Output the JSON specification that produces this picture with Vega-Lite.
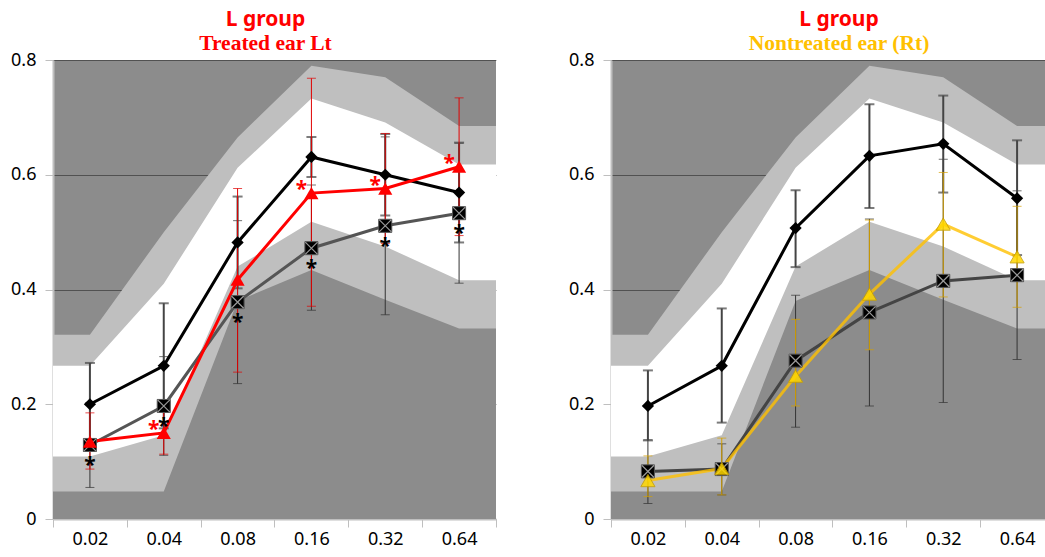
{
  "$schema": "https://vega.github.io/schema/vega-lite/v6.json",
  "background": "#ffffff",
  "padding": {"left": 10, "right": 0, "top": 8, "bottom": 0},
  "datasets": {
    "bands": [
      {"freq": 0.01, "b1": 0.048, "b2": 0.109, "b3": 0.267, "b4": 0.321},
      {"freq": 0.02, "b1": 0.048, "b2": 0.109, "b3": 0.267, "b4": 0.321},
      {"freq": 0.04, "b1": 0.048, "b2": 0.146, "b3": 0.41, "b4": 0.5},
      {"freq": 0.08, "b1": 0.38, "b2": 0.44, "b3": 0.612, "b4": 0.665},
      {"freq": 0.16, "b1": 0.434, "b2": 0.518, "b3": 0.733, "b4": 0.79},
      {"freq": 0.32, "b1": 0.382, "b2": 0.475, "b3": 0.691, "b4": 0.77},
      {"freq": 0.64, "b1": 0.332, "b2": 0.416, "b3": 0.618, "b4": 0.685},
      {"freq": 1.28, "b1": 0.332, "b2": 0.416, "b3": 0.618, "b4": 0.685}
    ],
    "pts": [
      {"panel": "Lt", "s": "A", "freq": 0.02, "v": 0.200, "lo": 0.128, "hi": 0.272, "sig": ""},
      {"panel": "Lt", "s": "A", "freq": 0.04, "v": 0.267, "lo": 0.158, "hi": 0.376, "sig": ""},
      {"panel": "Lt", "s": "A", "freq": 0.08, "v": 0.482, "lo": 0.402, "hi": 0.562, "sig": ""},
      {"panel": "Lt", "s": "A", "freq": 0.16, "v": 0.631, "lo": 0.596, "hi": 0.666, "sig": ""},
      {"panel": "Lt", "s": "A", "freq": 0.32, "v": 0.600, "lo": 0.529, "hi": 0.671, "sig": ""},
      {"panel": "Lt", "s": "A", "freq": 0.64, "v": 0.569, "lo": 0.482, "hi": 0.656, "sig": ""},
      {"panel": "Lt", "s": "B", "freq": 0.02, "v": 0.129, "lo": 0.055, "hi": 0.203, "sig": "*"},
      {"panel": "Lt", "s": "B", "freq": 0.04, "v": 0.197, "lo": 0.111, "hi": 0.283, "sig": "*"},
      {"panel": "Lt", "s": "B", "freq": 0.08, "v": 0.378, "lo": 0.236, "hi": 0.520, "sig": "*"},
      {"panel": "Lt", "s": "B", "freq": 0.16, "v": 0.472, "lo": 0.364, "hi": 0.582, "sig": "*"},
      {"panel": "Lt", "s": "B", "freq": 0.32, "v": 0.511, "lo": 0.356, "hi": 0.666, "sig": "*"},
      {"panel": "Lt", "s": "B", "freq": 0.64, "v": 0.533, "lo": 0.411, "hi": 0.655, "sig": "*"},
      {"panel": "Lt", "s": "C", "freq": 0.02, "v": 0.135, "lo": 0.087, "hi": 0.185, "sig": ""},
      {"panel": "Lt", "s": "C", "freq": 0.04, "v": 0.150, "lo": 0.113, "hi": 0.187, "sig": "*"},
      {"panel": "Lt", "s": "C", "freq": 0.08, "v": 0.417, "lo": 0.256, "hi": 0.576, "sig": ""},
      {"panel": "Lt", "s": "C", "freq": 0.16, "v": 0.568, "lo": 0.371, "hi": 0.768, "sig": "*"},
      {"panel": "Lt", "s": "C", "freq": 0.32, "v": 0.576, "lo": 0.480, "hi": 0.672, "sig": "*"},
      {"panel": "Lt", "s": "C", "freq": 0.64, "v": 0.614, "lo": 0.494, "hi": 0.734, "sig": "*"},
      {"panel": "Rt", "s": "A", "freq": 0.02, "v": 0.197, "lo": 0.137, "hi": 0.259, "sig": ""},
      {"panel": "Rt", "s": "A", "freq": 0.04, "v": 0.267, "lo": 0.168, "hi": 0.367, "sig": ""},
      {"panel": "Rt", "s": "A", "freq": 0.08, "v": 0.507, "lo": 0.439, "hi": 0.573, "sig": ""},
      {"panel": "Rt", "s": "A", "freq": 0.16, "v": 0.633, "lo": 0.542, "hi": 0.723, "sig": ""},
      {"panel": "Rt", "s": "A", "freq": 0.32, "v": 0.654, "lo": 0.569, "hi": 0.738, "sig": ""},
      {"panel": "Rt", "s": "A", "freq": 0.64, "v": 0.559, "lo": 0.460, "hi": 0.660, "sig": ""},
      {"panel": "Rt", "s": "B", "freq": 0.02, "v": 0.083, "lo": 0.027, "hi": 0.138, "sig": ""},
      {"panel": "Rt", "s": "B", "freq": 0.04, "v": 0.087, "lo": 0.042, "hi": 0.131, "sig": ""},
      {"panel": "Rt", "s": "B", "freq": 0.08, "v": 0.276, "lo": 0.160, "hi": 0.390, "sig": ""},
      {"panel": "Rt", "s": "B", "freq": 0.16, "v": 0.360, "lo": 0.197, "hi": 0.523, "sig": ""},
      {"panel": "Rt", "s": "B", "freq": 0.32, "v": 0.415, "lo": 0.203, "hi": 0.627, "sig": ""},
      {"panel": "Rt", "s": "B", "freq": 0.64, "v": 0.425, "lo": 0.278, "hi": 0.572, "sig": ""},
      {"panel": "Rt", "s": "C", "freq": 0.02, "v": 0.067, "lo": 0.039, "hi": 0.110, "sig": ""},
      {"panel": "Rt", "s": "C", "freq": 0.04, "v": 0.088, "lo": 0.042, "hi": 0.141, "sig": ""},
      {"panel": "Rt", "s": "C", "freq": 0.08, "v": 0.249, "lo": 0.197, "hi": 0.348, "sig": ""},
      {"panel": "Rt", "s": "C", "freq": 0.16, "v": 0.392, "lo": 0.295, "hi": 0.521, "sig": ""},
      {"panel": "Rt", "s": "C", "freq": 0.32, "v": 0.514, "lo": 0.387, "hi": 0.604, "sig": ""},
      {"panel": "Rt", "s": "C", "freq": 0.64, "v": 0.457, "lo": 0.369, "hi": 0.545, "sig": ""}
    ]
  },
  "spacing": 71,
  "hconcat": [
    {
      "width": 443,
      "height": 459,
      "title": {"text": "L group", "subtitle": "Treated ear Lt", "color": "#ff0000", "subtitleColor": "#ff0000", "font": "Noto Sans", "fontSize": 21, "fontWeight": "bold", "subtitleFont": "Liberation Serif", "subtitleFontSize": 21.5, "subtitleFontWeight": "bold", "subtitlePadding": 3, "anchor": "middle", "frame": "group", "offset": -3, "dx": -9},
      "encoding": {
        "x": {"field": "freq", "type": "quantitative", "title": null,
          "scale": {"type": "log", "base": 2, "domain": [0.0141421, 0.9051], "nice": false, "zero": false},
          "axis": {"values": [0.0141421, 0.02, 0.0282843, 0.04, 0.0565685, 0.08, 0.1131371, 0.16, 0.2262742, 0.32, 0.4525483, 0.64, 0.9050967],
            "labelExpr": "abs(datum.value*100 - round(datum.value*100)) < 0.001 ? format(datum.value, '.2f') : ''",
            "tickOpacity": {"condition": {"test": "abs(datum.value*100 - round(datum.value*100)) < 0.001", "value": 0}, "value": 1}}}
      },
      "layer": [
        {"data": {"name": "bands"}, "mark": {"type": "area", "color": "#bfbfbf", "clip": true, "opacity": 1}, "encoding": {"y": {"field": "b4", "type": "quantitative", "title": null, "scale": {"domain": [0, 0.8], "nice": false}}}},
        {"data": {"name": "bands"}, "mark": {"type": "area", "color": "#ffffff", "clip": true, "opacity": 1}, "encoding": {"y": {"field": "b3", "type": "quantitative", "title": null}}},
        {"data": {"name": "bands"}, "mark": {"type": "area", "color": "#bfbfbf", "clip": true, "opacity": 1}, "encoding": {"y": {"field": "b2", "type": "quantitative", "title": null}}},
        {"data": {"name": "bands"}, "mark": {"type": "area", "color": "#8c8c8c", "clip": true, "opacity": 1}, "encoding": {"y": {"field": "b1", "type": "quantitative", "title": null}}},
        {"data": {"name": "pts"}, "transform": [{"filter": "datum.panel == 'Lt' && datum.s == 'B'"}], "mark": {"type": "errorbar", "color": "#333333", "ticks": {"size": 9, "thickness": 1, "color": "#333333"}, "rule": {"strokeWidth": 1, "color": "#333333"}}, "encoding": {"y": {"field": "lo", "type": "quantitative", "title": null}, "y2": {"field": "hi"}}},
        {"data": {"name": "pts"}, "transform": [{"filter": "datum.panel == 'Lt' && datum.s == 'A'"}], "mark": {"type": "errorbar", "color": "#444444", "ticks": {"size": 10, "thickness": 2, "color": "#444444"}, "rule": {"strokeWidth": 2, "color": "#444444"}}, "encoding": {"y": {"field": "lo", "type": "quantitative", "title": null}, "y2": {"field": "hi"}}},
        {"data": {"name": "pts"}, "transform": [{"filter": "datum.panel == 'Lt' && datum.s == 'C'"}], "mark": {"type": "errorbar", "color": "#e00000", "ticks": {"size": 9, "thickness": 1, "color": "#e00000"}, "rule": {"strokeWidth": 1, "color": "#e00000"}}, "encoding": {"y": {"field": "lo", "type": "quantitative", "title": null}, "y2": {"field": "hi"}}},
        {"data": {"name": "pts"}, "transform": [{"filter": "datum.panel == 'Lt' && datum.s == 'B'"}], "mark": {"type": "line", "color": "#555555", "strokeWidth": 3}, "encoding": {"y": {"field": "v", "type": "quantitative", "title": null}}},
        {"data": {"name": "pts"}, "transform": [{"filter": "datum.panel == 'Lt' && datum.s == 'A'"}], "mark": {"type": "line", "color": "#000000", "strokeWidth": 3}, "encoding": {"y": {"field": "v", "type": "quantitative", "title": null}}},
        {"data": {"name": "pts"}, "transform": [{"filter": "datum.panel == 'Lt' && datum.s == 'C'"}], "mark": {"type": "line", "color": "#ff0000", "strokeWidth": 3}, "encoding": {"y": {"field": "v", "type": "quantitative", "title": null}}},
        {"data": {"name": "pts"}, "transform": [{"filter": "datum.panel == 'Lt' && datum.s == 'B'"}], "mark": {"type": "point", "shape": "square", "filled": true, "fill": "#000000", "stroke": "#555555", "strokeWidth": 1, "size": 170, "opacity": 1}, "encoding": {"y": {"field": "v", "type": "quantitative", "title": null}}},
        {"data": {"name": "pts"}, "transform": [{"filter": "datum.panel == 'Lt' && datum.s == 'B'"}], "mark": {"type": "point", "shape": "M-1,-1L1,1M-1,1L1,-1", "filled": false, "stroke": "#9a9a9a", "strokeWidth": 1.2, "size": 150, "opacity": 1}, "encoding": {"y": {"field": "v", "type": "quantitative", "title": null}}},
        {"data": {"name": "pts"}, "transform": [{"filter": "datum.panel == 'Lt' && datum.s == 'A'"}], "mark": {"type": "point", "shape": "diamond", "filled": true, "color": "#000000", "size": 150, "opacity": 1}, "encoding": {"y": {"field": "v", "type": "quantitative", "title": null}}},
        {"data": {"name": "pts"}, "transform": [{"filter": "datum.panel == 'Lt' && datum.s == 'C'"}], "mark": {"type": "point", "shape": "triangle-up", "filled": true, "color": "#ff0000", "size": 200, "opacity": 1}, "encoding": {"y": {"field": "v", "type": "quantitative", "title": null}}},
        {"data": {"name": "pts"}, "transform": [{"filter": "datum.panel == 'Lt' && datum.s == 'B' && datum.sig != ''"}], "mark": {"type": "text", "font": "Noto Sans", "fontSize": 21, "fontWeight": "bold", "color": "#000000", "baseline": "alphabetic", "align": "center", "dy": 27}, "encoding": {"y": {"field": "v", "type": "quantitative", "title": null}, "text": {"field": "sig"}}},
        {"data": {"name": "pts"}, "transform": [{"filter": "datum.panel == 'Lt' && datum.s == 'C' && datum.sig != ''"}], "mark": {"type": "text", "font": "Noto Sans", "fontSize": 21, "fontWeight": "bold", "color": "#ff0000", "baseline": "alphabetic", "align": "center", "dx": -10, "dy": 3}, "encoding": {"y": {"field": "v", "type": "quantitative", "title": null}, "text": {"field": "sig"}}}
      ]
    },
    {
      "width": 438,
      "height": 459,
      "title": {"text": "L group", "subtitle": "Nontreated ear (Rt)", "color": "#ff0000", "subtitleColor": "#ffc000", "font": "Noto Sans", "fontSize": 21, "fontWeight": "bold", "subtitleFont": "Liberation Serif", "subtitleFontSize": 21.5, "subtitleFontWeight": "bold", "subtitlePadding": 3, "anchor": "middle", "frame": "group", "offset": -3, "dx": 9},
      "encoding": {
        "x": {"field": "freq", "type": "quantitative", "title": null,
          "scale": {"type": "log", "base": 2, "domain": [0.0141421, 0.8636], "nice": false, "zero": false},
          "axis": {"values": [0.0141421, 0.02, 0.0282843, 0.04, 0.0565685, 0.08, 0.1131371, 0.16, 0.2262742, 0.32, 0.4525483, 0.64],
            "labelExpr": "abs(datum.value*100 - round(datum.value*100)) < 0.001 ? format(datum.value, '.2f') : ''",
            "tickOpacity": {"condition": {"test": "abs(datum.value*100 - round(datum.value*100)) < 0.001", "value": 0}, "value": 1}}}
      },
      "layer": [
        {"data": {"name": "bands"}, "mark": {"type": "area", "color": "#bfbfbf", "clip": true, "opacity": 1}, "encoding": {"y": {"field": "b4", "type": "quantitative", "title": null, "scale": {"domain": [0, 0.8], "nice": false}}}},
        {"data": {"name": "bands"}, "mark": {"type": "area", "color": "#ffffff", "clip": true, "opacity": 1}, "encoding": {"y": {"field": "b3", "type": "quantitative", "title": null}}},
        {"data": {"name": "bands"}, "mark": {"type": "area", "color": "#bfbfbf", "clip": true, "opacity": 1}, "encoding": {"y": {"field": "b2", "type": "quantitative", "title": null}}},
        {"data": {"name": "bands"}, "mark": {"type": "area", "color": "#8c8c8c", "clip": true, "opacity": 1}, "encoding": {"y": {"field": "b1", "type": "quantitative", "title": null}}},
        {"data": {"name": "pts"}, "transform": [{"filter": "datum.panel == 'Rt' && datum.s == 'B'"}], "mark": {"type": "errorbar", "color": "#333333", "ticks": {"size": 9, "thickness": 1, "color": "#333333"}, "rule": {"strokeWidth": 1, "color": "#333333"}}, "encoding": {"y": {"field": "lo", "type": "quantitative", "title": null}, "y2": {"field": "hi"}}},
        {"data": {"name": "pts"}, "transform": [{"filter": "datum.panel == 'Rt' && datum.s == 'A'"}], "mark": {"type": "errorbar", "color": "#444444", "ticks": {"size": 10, "thickness": 2, "color": "#444444"}, "rule": {"strokeWidth": 2, "color": "#444444"}}, "encoding": {"y": {"field": "lo", "type": "quantitative", "title": null}, "y2": {"field": "hi"}}},
        {"data": {"name": "pts"}, "transform": [{"filter": "datum.panel == 'Rt' && datum.s == 'C'"}], "mark": {"type": "errorbar", "color": "#d4a000", "ticks": {"size": 9, "thickness": 1, "color": "#d4a000"}, "rule": {"strokeWidth": 1, "color": "#d4a000"}}, "encoding": {"y": {"field": "lo", "type": "quantitative", "title": null}, "y2": {"field": "hi"}}},
        {"data": {"name": "pts"}, "transform": [{"filter": "datum.panel == 'Rt' && datum.s == 'B'"}], "mark": {"type": "line", "color": "#444444", "strokeWidth": 3}, "encoding": {"y": {"field": "v", "type": "quantitative", "title": null}}},
        {"data": {"name": "pts"}, "transform": [{"filter": "datum.panel == 'Rt' && datum.s == 'A'"}], "mark": {"type": "line", "color": "#000000", "strokeWidth": 3}, "encoding": {"y": {"field": "v", "type": "quantitative", "title": null}}},
        {"data": {"name": "pts"}, "transform": [{"filter": "datum.panel == 'Rt' && datum.s == 'C'"}], "mark": {"type": "line", "color": "#ffc000", "strokeWidth": 3, "opacity": 0.8}, "encoding": {"y": {"field": "v", "type": "quantitative", "title": null}}},
        {"data": {"name": "pts"}, "transform": [{"filter": "datum.panel == 'Rt' && datum.s == 'B'"}], "mark": {"type": "point", "shape": "square", "filled": true, "fill": "#000000", "stroke": "#555555", "strokeWidth": 1, "size": 170, "opacity": 1}, "encoding": {"y": {"field": "v", "type": "quantitative", "title": null}}},
        {"data": {"name": "pts"}, "transform": [{"filter": "datum.panel == 'Rt' && datum.s == 'B'"}], "mark": {"type": "point", "shape": "M-1,-1L1,1M-1,1L1,-1", "filled": false, "stroke": "#9a9a9a", "strokeWidth": 1.2, "size": 150, "opacity": 1}, "encoding": {"y": {"field": "v", "type": "quantitative", "title": null}}},
        {"data": {"name": "pts"}, "transform": [{"filter": "datum.panel == 'Rt' && datum.s == 'A'"}], "mark": {"type": "point", "shape": "diamond", "filled": true, "color": "#000000", "size": 150, "opacity": 1}, "encoding": {"y": {"field": "v", "type": "quantitative", "title": null}}},
        {"data": {"name": "pts"}, "transform": [{"filter": "datum.panel == 'Rt' && datum.s == 'C'"}], "mark": {"type": "point", "shape": "triangle-up", "filled": true, "fill": "#ffd700", "stroke": "#c8a000", "strokeWidth": 1, "size": 200, "opacity": 0.85}, "encoding": {"y": {"field": "v", "type": "quantitative", "title": null}}}
      ]
    }
  ],
  "config": {
    "view": {"stroke": null, "fill": "#8c8c8c"},
    "axis": {"labelFont": "Noto Sans", "labelFontSize": 18, "labelColor": "#000000", "domainColor": "#bfbfbf", "domainWidth": 2, "tickColor": "#bfbfbf", "tickSize": 8, "zindex": 1},
    "axisX": {"grid": false, "labelPadding": 3, "labelFlush": false, "labelOverlap": false, "labelBound": false},
    "axisY": {"grid": true, "gridColor": "#000000", "gridOpacity": 0.42, "gridWidth": 1, "tickCount": 5, "labelPadding": 9, "labelFlush": false, "labelOverlap": false, "format": "~g"}
  }
}
